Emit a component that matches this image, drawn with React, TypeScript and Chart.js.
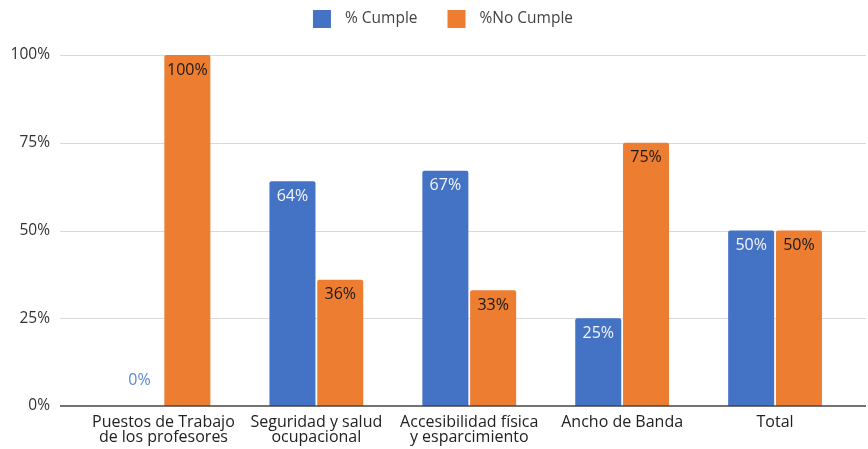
import React, { useEffect, useRef } from 'react';
import { Chart, registerables } from 'chart.js';

Chart.register(...registerables);

const categories: string[][] = [
  ['Puestos de Trabajo', 'de los profesores'],
  ['Seguridad y salud', 'ocupacional'],
  ['Accesibilidad física', 'y esparcimiento'],
  ['Ancho de Banda'],
  ['Total'],
];
const seriesNames = ['% Cumple', '%No Cumple'];
const cumple = [0, 64, 67, 25, 50];
const noCumple = [100, 36, 33, 75, 50];
const yTickValues = [0, 25, 50, 75, 100];

const BLUE = '#4472C4';
const ORANGE = '#ED7D31';
const FONT = '"Open Sans", sans-serif';

const gridPlugin = {
  id: 'fullGrid',
  beforeDatasetsDraw(chart: any) {
    const { ctx } = chart;
    const y = chart.scales.y;
    ctx.save();
    ctx.strokeStyle = '#d9d9d9';
    ctx.lineWidth = 1;
    yTickValues.forEach((v) => {
      if (v === 0) return;
      const py = Math.round(y.getPixelForValue(v)) + 0.5;
      ctx.beginPath();
      ctx.moveTo(60, py);
      ctx.lineTo(866, py);
      ctx.stroke();
    });
    ctx.restore();
  },
  afterDatasetsDraw(chart: any) {
    const { ctx } = chart;
    const y = chart.scales.y;
    ctx.save();
    ctx.strokeStyle = '#444';
    ctx.lineWidth = 1.5;
    const py = y.getPixelForValue(0);
    ctx.beginPath();
    ctx.moveTo(60, py);
    ctx.lineTo(866, py);
    ctx.stroke();

    // data labels
    ctx.font = `16px ${FONT}`;
    ctx.textAlign = 'center';
    ctx.textBaseline = 'middle';
    chart.data.datasets.forEach((ds: any, di: number) => {
      const meta = chart.getDatasetMeta(di);
      meta.data.forEach((el: any, i: number) => {
        const v = ds.data[i];
        const txt = `${v}%`;
        if (v === 0) {
          ctx.fillStyle = di === 0 ? '#5b87d6' : ORANGE;
          ctx.fillText(txt, el.x, el.y - 26);
        } else {
          ctx.fillStyle = di === 0 ? '#f4f6fb' : '#1a1a1a';
          ctx.fillText(txt, el.x, el.y + 15);
        }
      });
    });

    // legend
    ctx.font = `15.5px ${FONT}`;
    ctx.textAlign = 'left';
    const box = 18;
    const gapText = 14;
    const gapItem = 30;
    const widths = seriesNames.map((n) => ctx.measureText(n).width);
    const total = widths.reduce((a, w) => a + box + gapText + w, 0) + gapItem * (seriesNames.length - 1);
    let x = (chart.width - total) / 2 + 9;
    const cy = 19;
    chart.data.datasets.forEach((ds: any, di: number) => {
      ctx.fillStyle = ds.backgroundColor;
      ctx.fillRect(x, cy - box / 2, box, box);
      x += box + gapText;
      ctx.fillStyle = '#444';
      ctx.fillText(seriesNames[di], x, cy);
      x += widths[di] + gapItem;
    });
    ctx.restore();
  },
};

export default function App() {
  const ref = useRef<HTMLCanvasElement | null>(null);
  useEffect(() => {
    if (!ref.current) return;
    const chart = new Chart(ref.current, {
      type: 'bar',
      data: {
        labels: categories,
        datasets: [
          {
            label: seriesNames[0],
            data: cumple,
            backgroundColor: BLUE,
            borderRadius: 2,
            borderSkipped: 'bottom',
            categoryPercentage: 0.625,
            barPercentage: 0.963,
          },
          {
            label: seriesNames[1],
            data: noCumple,
            backgroundColor: ORANGE,
            borderRadius: 2,
            borderSkipped: 'bottom',
            categoryPercentage: 0.625,
            barPercentage: 0.963,
          },
        ],
      },
      options: {
        responsive: true,
        maintainAspectRatio: false,
        animation: false,
        devicePixelRatio: 1,
        layout: { padding: { top: 55, right: 16.5, bottom: 0, left: 8 } },
        plugins: {
          legend: { display: false },
          tooltip: { enabled: false },
        },
        scales: {
          x: {
            grid: { display: false, drawTicks: false },
            border: { display: false },
            ticks: {
              font: { family: FONT, size: 16, lineHeight: '15px' },
              color: '#222',
              padding: 9,
              maxRotation: 0,
              autoSkip: false,
            },
            afterFit: (scale: any) => {
              scale.height = 43;
            },
          },
          y: {
            min: 0,
            max: 100,
            grid: { display: false, drawTicks: false },
            border: { display: false },
            ticks: {
              stepSize: 25,
              callback: (v: any) => `${v}%`,
              font: { family: FONT, size: 15.5 },
              color: '#333',
              padding: 37,
            },
            afterFit: (scale: any) => {
              scale.width = 79;
              scale.paddingTop = 10;
              scale.paddingBottom = 10;
            },
          },
        },
      },
      plugins: [gridPlugin],
    });
    return () => chart.destroy();
  }, []);
  return (
    <div style={{ position: 'fixed', left: 0, top: 0, width: 868, height: 449, background: '#fff' }}>
      <div style={{ position: 'relative', width: 868, height: 449 }}>
        <canvas ref={ref} />
      </div>
    </div>
  );
}
